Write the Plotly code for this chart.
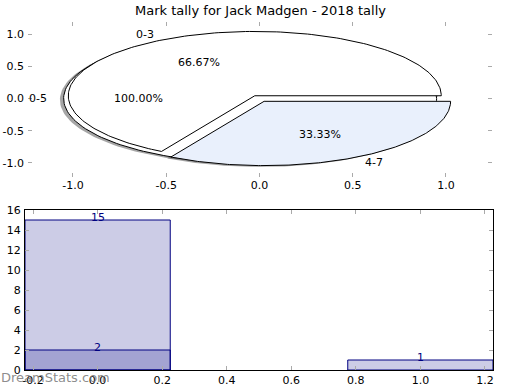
import numpy as np
import plotly.graph_objects as go

# ---------------- data ----------------
title = "Mark tally for Jack Madgen - 2018 tally"

pie_outer_labels = ["0-5"]
pie_outer_values = [1]
pie_outer_colors = ["#ffffff"]

pie_inner_labels = ["0-3", "4-7"]
pie_inner_values = [2, 1]
pie_inner_colors = ["#ffffff", "#e9f0fc"]

explode = 0.05

bar_x = [0, 1]
bar_a = [15, 1]
bar_b_x = [0]
bar_b = [2]

pie_ticks = [-1.0, -0.5, 0.0, 0.5, 1.0]
bar_xticks = [-0.2, 0.0, 0.2, 0.4, 0.6, 0.8, 1.0, 1.2]
bar_yticks = [0, 2, 4, 6, 8, 10, 12, 14, 16]

watermark = "DreamStats.com"

FONT = "DejaVu Sans"
W, H = 520, 390


def px_x(v):
    return v / W


def px_y(v):
    return 1 - v / H


def fmt1(vals):
    return ["%.1f" % v for v in vals]


fig = go.Figure()


def wedges(values, labels, colors):
    total = float(sum(values))
    out = []
    start = 0.0
    for v, lab, col in zip(values, labels, colors):
        frac = v / total
        a0 = start * 360
        a1 = (start + frac) * 360
        mid = np.deg2rad((a0 + a1) / 2)
        cx, cy = explode * np.cos(mid), explode * np.sin(mid)
        th = np.deg2rad(np.linspace(a0, a1, 200))
        if frac >= 0.999:
            xs = cx + np.cos(th)
            ys = cy + np.sin(th)
        else:
            xs = np.concatenate([[cx], cx + np.cos(th), [cx]])
            ys = np.concatenate([[cy], cy + np.sin(th), [cy]])
        out.append(dict(x=xs, y=ys, cx=cx, cy=cy, mid=mid, frac=frac, label=lab, color=col))
        start += frac
    return out


outer = wedges(pie_outer_values, pie_outer_labels, pie_outer_colors)
inner = wedges(pie_inner_values, pie_inner_labels, pie_inner_colors)

# shadows first
for w in outer + inner:
    fig.add_trace(go.Scatter(x=w["x"] - 0.02, y=w["y"] - 0.02, mode="lines", fill="toself",
                             fillcolor="rgba(77,77,77,0.5)", line=dict(width=0),
                             hoverinfo="skip", showlegend=False, xaxis="x", yaxis="y"))
for w in outer + inner:
    fig.add_trace(go.Scatter(x=w["x"], y=w["y"], mode="lines", fill="toself",
                             fillcolor=w["color"], line=dict(color="black", width=1),
                             hoverinfo="skip", showlegend=False, xaxis="x", yaxis="y"))

annotations = []
for w in outer + inner:
    lx = w["cx"] + 1.1 * np.cos(w["mid"])
    ly = w["cy"] + 1.1 * np.sin(w["mid"])
    if lx < -1e-9:
        xa, xs_ = "right", 3
    elif lx > 1e-9:
        xa, xs_ = "left", -3
    else:
        xa, xs_ = "center", 0
    annotations.append(dict(x=lx, y=ly, xref="x", yref="y", text=w["label"], showarrow=False,
                            xanchor=xa, yanchor="middle", xshift=xs_, borderpad=0,
                            font=dict(size=11, color="black", family=FONT)))
    px = w["cx"] + 0.6 * np.cos(w["mid"])
    py = w["cy"] + 0.6 * np.sin(w["mid"])
    annotations.append(dict(x=px, y=py, xref="x", yref="y", text="%.2f%%" % (w["frac"] * 100),
                            showarrow=False, xanchor="center", yanchor="middle",
                            font=dict(size=11, color="black", family=FONT)))

# bars
fig.add_trace(go.Bar(x=bar_x, y=bar_a, width=0.45, marker=dict(color="rgba(0,0,128,0.2)",
                     line=dict(color="#000080", width=1)), showlegend=False,
                     xaxis="x2", yaxis="y2", hoverinfo="skip"))
fig.add_trace(go.Bar(x=bar_b_x, y=bar_b, width=0.45, marker=dict(color="rgba(0,0,128,0.2)",
                     line=dict(color="#000080", width=1)), showlegend=False,
                     xaxis="x2", yaxis="y2", hoverinfo="skip"))
for xs, ys in [(bar_x, bar_a), (bar_b_x, bar_b)]:
    for xv, yv in zip(xs, ys):
        annotations.append(dict(x=xv, y=yv, xref="x2", yref="y2", text=str(yv), showarrow=False,
                                xanchor="center", yanchor="middle", yshift=3,
                                font=dict(size=11, color="#000080", family=FONT)))

annotations.append(dict(x=px_x(-1), y=px_y(377), xref="paper", yref="paper", text=watermark,
                        showarrow=False, xanchor="left", yanchor="middle",
                        font=dict(size=13, color="rgba(120,120,120,0.85)", family=FONT)))

annotations.append(dict(x=px_x(260), y=px_y(10), xref="paper", yref="paper", text=title,
                        showarrow=False, xanchor="center", yanchor="middle",
                        font=dict(size=13, color="black", family=FONT)))

tick_common = dict(ticks="inside", ticklen=4, tickwidth=1, tickcolor="#aaaaaa",
                   showgrid=False, zeroline=False, automargin=False,
                   tickfont=dict(size=11, color="black", family=FONT))

fig.update_layout(
    width=W, height=H,
    margin=dict(l=0, r=0, t=0, b=0),
    paper_bgcolor="white", plot_bgcolor="white",
    barmode="overlay",
    annotations=annotations,
    xaxis=dict(domain=[px_x(28), px_x(492)], range=[-1.241, 1.247], anchor="y",
               tickvals=pie_ticks, ticktext=fmt1(pie_ticks), showline=False,
               mirror="ticks", **tick_common),
    yaxis=dict(domain=[px_y(177), px_y(22)], range=[-1.22, 1.19], anchor="x",
               tickvals=pie_ticks, ticktext=fmt1(pie_ticks), showline=False,
               mirror="ticks", ticklabelstandoff=3, **tick_common),
    xaxis2=dict(domain=[px_x(25), px_x(493)], range=[-0.225, 1.225], anchor="y2",
                tickvals=bar_xticks, ticktext=fmt1(bar_xticks),
                showline=True, linecolor="black", linewidth=1, mirror="ticks", **tick_common),
    yaxis2=dict(domain=[px_y(370), px_y(210)], range=[0, 16], anchor="x2",
                tickvals=bar_yticks, showline=True, linecolor="black", linewidth=1,
                mirror="ticks", ticklabelstandoff=1, **tick_common),
)

fig.write_html("out.html", config={"displayModeBar": False},
               post_script="document.body.style.margin='0px';")
